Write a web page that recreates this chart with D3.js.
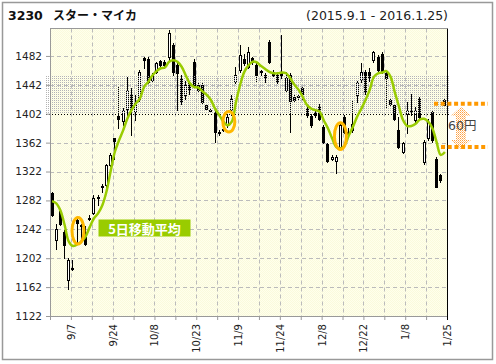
<!DOCTYPE html>
<html>
<head>
<meta charset="utf-8">
<script src="https://cdn.jsdelivr.net/npm/d3@7"></script>
<style>
  body { margin: 0; background: #fff; }
  svg { display: block; font-family: "DejaVu Sans", "Noto Sans CJK JP", sans-serif; }
</style>
</head>
<body>
<svg id="chart" width="496" height="364"></svg>
<script>
// trading days 2015.9.1 - 2016.1.25
const dates = [
  "9/1","9/2","9/3","9/4","9/7","9/8","9/9","9/10","9/11","9/14",
  "9/15","9/16","9/17","9/18","9/24","9/25","9/28","9/29","9/30",
  "10/1","10/2","10/5","10/6","10/7","10/8","10/9","10/13","10/14","10/15",
  "10/16","10/19","10/20","10/21","10/22","10/23","10/26","10/27","10/28","10/29","10/30",
  "11/2","11/4","11/5","11/6","11/9","11/10","11/11","11/12","11/13","11/16",
  "11/17","11/18","11/19","11/20","11/24","11/25","11/26","11/27","11/30",
  "12/1","12/2","12/3","12/4","12/7","12/8","12/9","12/10","12/11","12/14",
  "12/15","12/16","12/17","12/18","12/21","12/22","12/24","12/25","12/28","12/29","12/30",
  "1/4","1/5","1/6","1/7","1/8","1/12","1/13","1/14","1/15","1/18",
  "1/19","1/20","1/21","1/22","1/25"
];
const open = [
  1292,1227,1268,1238,1172,1187,1255,1248,1232,1258,
  1264,1285,1302,1303,1331,1369,1399,1392,1409,1430,
  1405,1423,1479,1478,1449,1460,1475,1474,1480,1497,
  1469,1451,1428,1444,1474,1442,1442,1414,1407,1404,
  1377,1381,1386,1407,1446,1462,1478,1467,1479,1469,
  1461,1455,1501,1460,1455,1460,1435,1455,1425,1426,
  1437,1409,1399,1404,1413,1384,1360,1340,1337,1356,
  1398,1377,1379,1428,1449,1460,1460,1476,1481,1485,
  1458,1421,1414,1379,1349,1402,1407,1393,1423,1335,
  1368,1405,1340,1317,1421
];
const high = [
  1293,1250,1270,1241,1202,1199,1256,1250,1246,1262,
  1290,1290,1305,1333,1347,1369,1439,1410,1453,1437,
  1428,1462,1481,1480,1458,1474,1477,1476,1518,1500,
  1472,1455,1448,1446,1478,1445,1444,1416,1410,1407,
  1380,1384,1402,1428,1467,1497,1485,1495,1481,1472,
  1462,1458,1504,1462,1460,1511,1460,1458,1428,1428,
  1439,1412,1402,1407,1415,1386,1361,1345,1345,1388,
  1400,1382,1421,1448,1472,1462,1465,1489,1483,1487,
  1462,1423,1416,1398,1363,1418,1430,1412,1425,1365,
  1395,1407,1342,1319,1422
];
const low = [
  1260,1215,1248,1202,1160,1185,1225,1225,1220,1255,
  1263,1275,1294,1301,1330,1340,1382,1386,1400,1372,
  1393,1420,1465,1444,1447,1458,1468,1466,1476,1455,
  1407,1416,1422,1430,1438,1432,1416,1407,1404,1363,
  1372,1378,1384,1400,1444,1460,1469,1465,1471,1446,
  1455,1446,1472,1454,1444,1451,1432,1377,1419,1422,
  1423,1398,1384,1398,1393,1361,1335,1338,1320,1354,
  1375,1372,1377,1418,1446,1430,1448,1474,1460,1458,
  1412,1414,1393,1354,1347,1375,1400,1389,1396,1333,
  1366,1363,1300,1308,1413
];
const close = [
  1262,1243,1250,1220,1199,1189,1251,1248,1222,1258,
  1286,1287,1302,1331,1345,1364,1395,1407,1435,1409,
  1418,1460,1476,1446,1455,1472,1470,1469,1514,1460,
  1458,1419,1442,1435,1439,1435,1418,1409,1407,1377,
  1376,1380,1398,1423,1455,1483,1472,1488,1473,1455,
  1460,1451,1474,1456,1448,1455,1451,1419,1421,1425,
  1430,1400,1386,1400,1395,1363,1336,1342,1342,1386,
  1377,1374,1388,1446,1460,1432,1451,1488,1462,1461,
  1451,1415,1395,1356,1361,1407,1407,1407,1398,1363,
  1391,1365,1301,1310,1414
];
// 5-day moving average as drawn
const ma5 = [
  1281,1278,1268,1248,1225,1219,1221,1225,1232,1245,
  1257,1264,1275,1294,1322,1349,1365,1379,1395,1407,
  1416,1423,1439,1446,1455,1461,1465,1466,1474,1476,
  1474,1467,1455,1444,1439,1438,1433,1428,1421,1409,
  1400,1391,1386,1391,1418,1442,1460,1469,1474,1473,
  1468,1464,1460,1458,1458,1459,1458,1451,1442,1435,
  1425,1414,1409,1407,1405,1393,1382,1368,1356,1354,
  1358,1372,1384,1398,1409,1421,1435,1453,1458,1459,
  1461,1453,1432,1412,1393,1385,1385,1388,1394,1395,
  1391,1382,1363,1345,1349
];
const labelDates = ["9/7","9/24","10/8","10/23","11/9","11/24","12/8","12/22","1/8","1/25"];
const yTicks = [1122,1162,1202,1242,1282,1322,1362,1402,1442,1482];
const zone = [1402, 1455];
const gapMarks = [1416, 1356];
const gapText = "60円";
const maText = "5日移動平均";
// circled lows: fractional day index, price
const circled = [[6.2, 1240], [42.3, 1391], [69, 1371]];

const plotL = 50, plotR = 447, plotT = 28.5, plotB = 316;
const svg = d3.select("#chart");

const x = d3.scaleLinear().domain([-0.5, dates.length - 0.5]).range([plotL, plotR]);
const y = d3.scaleLinear().domain([1122, 1520]).range([plotB, plotT]);

const defs = svg.append("defs");
const bgPat = defs.append("pattern").attr("id", "bg").attr("patternUnits", "userSpaceOnUse")
  .attr("width", 2).attr("height", 2);
bgPat.append("rect").attr("width", 2).attr("height", 2).attr("fill", "#ffffec");
bgPat.append("rect").attr("width", 1).attr("height", 1).attr("fill", "#fafadc");
bgPat.append("rect").attr("x", 1).attr("y", 1).attr("width", 1).attr("height", 1).attr("fill", "#fafadc");

const zonePat = defs.append("pattern").attr("id", "zone").attr("patternUnits", "userSpaceOnUse")
  .attr("width", 2).attr("height", 2);
zonePat.append("rect").attr("width", 1).attr("height", 1).attr("fill", "#b4b4b4");

const arrowPat = defs.append("pattern").attr("id", "arr").attr("patternUnits", "userSpaceOnUse")
  .attr("width", 2).attr("height", 2);
arrowPat.append("rect").attr("width", 1).attr("height", 1).attr("fill", "#ffa040");
arrowPat.append("rect").attr("x", 1).attr("y", 1).attr("width", 1).attr("height", 1).attr("fill", "#ffc890");

// outer frame
svg.append("rect")
  .attr("x", 2.5).attr("y", 2.5).attr("width", 490).attr("height", 357)
  .attr("fill", "#fff").attr("stroke", "#999").attr("stroke-width", 1.5);

// title
const title = svg.append("text").attr("y", 20).attr("font-weight", "bold").attr("font-size", 12.5).attr("fill", "#111");
title.append("tspan").attr("x", 8).text("3230");
title.append("tspan").attr("x", 53).attr("font-family", "Noto Sans CJK JP").attr("font-size", 12).text("スター・マイカ");
svg.append("text")
  .attr("x", 306).attr("y", 20).attr("font-size", 12.5).attr("fill", "#222")
  .attr("textLength", 142).attr("lengthAdjust", "spacing")
  .text("(2015.9.1 - 2016.1.25)");

// plot background
svg.append("rect")
  .attr("x", plotL).attr("y", plotT).attr("width", plotR - plotL).attr("height", plotB - plotT)
  .attr("fill", "url(#bg)");

// grid
const gridIdx = d3.range(4.5, dates.length - 1, 5);
svg.append("g").selectAll("line").data(gridIdx).join("line")
  .attr("x1", d => Math.round(x(d)) + 0.5).attr("x2", d => Math.round(x(d)) + 0.5)
  .attr("y1", plotT).attr("y2", plotB)
  .attr("stroke", "#bbb").attr("stroke-dasharray", "4,3");
svg.append("g").selectAll("line").data(yTicks.filter(v => v > 1122 && v !== zone[0])).join("line")
  .attr("x1", plotL).attr("x2", plotR)
  .attr("y1", d => Math.round(y(d)) + 0.5).attr("y2", d => Math.round(y(d)) + 0.5)
  .attr("stroke", "#bbb").attr("stroke-dasharray", "4,3");

// candles
const idx = d3.range(dates.length);
const cx = i => Math.round(x(i) - 0.5);
const candles = svg.append("g");
candles.selectAll("line").data(idx).join("line")
  .attr("x1", i => cx(i) + 0.5).attr("x2", i => cx(i) + 0.5)
  .attr("y1", i => Math.round(y(high[i]))).attr("y2", i => Math.round(y(low[i])) + 1)
  .attr("stroke", "#000");
candles.selectAll("rect").data(idx).join("rect")
  .attr("x", i => cx(i) - 0.5)
  .attr("y", i => Math.round(y(Math.max(open[i], close[i]))) + 0.5)
  .attr("width", 2)
  .attr("height", i => Math.max(1, Math.round(y(Math.min(open[i], close[i]))) - Math.round(y(Math.max(open[i], close[i])))))
  .attr("fill", i => close[i] >= open[i] ? "#fff" : "#000")
  .attr("stroke", "#000");

// dotted zone overlay
svg.append("rect")
  .attr("x", 46).attr("width", 404)
  .attr("y", y(zone[1])).attr("height", y(zone[0]) - y(zone[1]))
  .attr("fill", "url(#zone)");
svg.append("line")
  .attr("x1", 46).attr("x2", 450)
  .attr("y1", Math.round(y(zone[0])) + 0.5).attr("y2", Math.round(y(zone[0])) + 0.5)
  .attr("stroke", "#000").attr("stroke-dasharray", "1,2");

// moving average
svg.append("path")
  .datum(ma5)
  .attr("d", d3.line().x((d, i) => x(i)).y(d => y(d)).curve(d3.curveCatmullRom.alpha(0.5)))
  .attr("fill", "none").attr("stroke", "#99cc00").attr("stroke-width", 2.5);

// circles on lows
svg.append("g").selectAll("ellipse").data(circled).join("ellipse")
  .attr("cx", d => x(d[0])).attr("cy", d => y(d[1]))
  .attr("rx", 6).attr("ry", (d, i) => i === 1 ? 10.3 : 13.3)
  .attr("fill", "none").attr("stroke", "#ffb800").attr("stroke-width", 3);

// axes
const yAxis = svg.append("g").attr("transform", `translate(${plotL},0)`)
  .call(d3.axisLeft(y).tickValues(yTicks).tickFormat(d3.format("d")).tickSize(4).tickPadding(4).tickSizeOuter(0));
yAxis.select(".domain").attr("stroke", "#999");
yAxis.selectAll(".tick line").attr("stroke", "#999");
yAxis.selectAll("text").attr("font-size", 10.5).attr("fill", "#222").attr("font-family", "DejaVu Sans");

const xAxis = svg.append("g").attr("transform", `translate(0,${plotB})`)
  .call(d3.axisBottom(x).tickValues(d3.range(-0.5, dates.length, 5)).tickSize(4).tickSizeOuter(0)
    .tickFormat(v => {
      const d = dates[Math.round(v - 0.5)];
      return labelDates.includes(d) ? d : "";
    }));
xAxis.select(".domain").attr("stroke", "#999");
xAxis.selectAll(".tick line").attr("stroke", "#999");
xAxis.selectAll("text")
  .attr("font-size", 10).attr("fill", "#222").attr("font-family", "DejaVu Sans")
  .attr("transform", "rotate(-90)")
  .attr("text-anchor", "end")
  .attr("x", -8).attr("y", 0).attr("dy", "0.35em");

// plot frame
svg.append("line").attr("x1", plotL).attr("x2", plotR).attr("y1", plotT).attr("y2", plotT).attr("stroke", "#999");
svg.append("line").attr("x1", plotR + 0.5).attr("x2", plotR + 0.5).attr("y1", plotT).attr("y2", plotB + 4).attr("stroke", "#000");

// MA label
svg.append("rect").attr("x", 98.5).attr("y", 219.5).attr("width", 92).attr("height", 17).attr("fill", "#99cc00");
svg.append("text")
  .attr("x", 144.5).attr("y", 233.5).attr("text-anchor", "middle")
  .attr("font-family", "Noto Sans CJK JP").attr("font-weight", "bold").attr("font-size", 13)
  .attr("fill", "#fff").text(maText);

// 60 yen gap marker
const ay1 = y(gapMarks[0]) + 3, ay2 = y(gapMarks[1]) + 2;
svg.append("path")
  .attr("d", `M461,${ay1} L471,${ay1 + 9} L466,${ay1 + 9} L466,${ay2 - 9} L471,${ay2 - 9} L461,${ay2} L451,${ay2 - 9} L456,${ay2 - 9} L456,${ay1 + 9} L451,${ay1 + 9} Z`)
  .attr("fill", "url(#arr)");
svg.append("line")
  .attr("x1", 434).attr("x2", 488).attr("y1", y(gapMarks[0])).attr("y2", y(gapMarks[0]))
  .attr("stroke", "#ff9900").attr("stroke-width", 4).attr("stroke-dasharray", "4,2.7");
svg.append("line")
  .attr("x1", 441).attr("x2", 488).attr("y1", y(gapMarks[1])).attr("y2", y(gapMarks[1]))
  .attr("stroke", "#ff9900").attr("stroke-width", 4).attr("stroke-dasharray", "4,2.7");
svg.append("text")
  .attr("x", 448).attr("y", 130).attr("font-size", 12.5).attr("fill", "#444")
  .attr("font-family", "DejaVu Sans, Noto Sans CJK JP").text(gapText);
</script>
</body>
</html>
